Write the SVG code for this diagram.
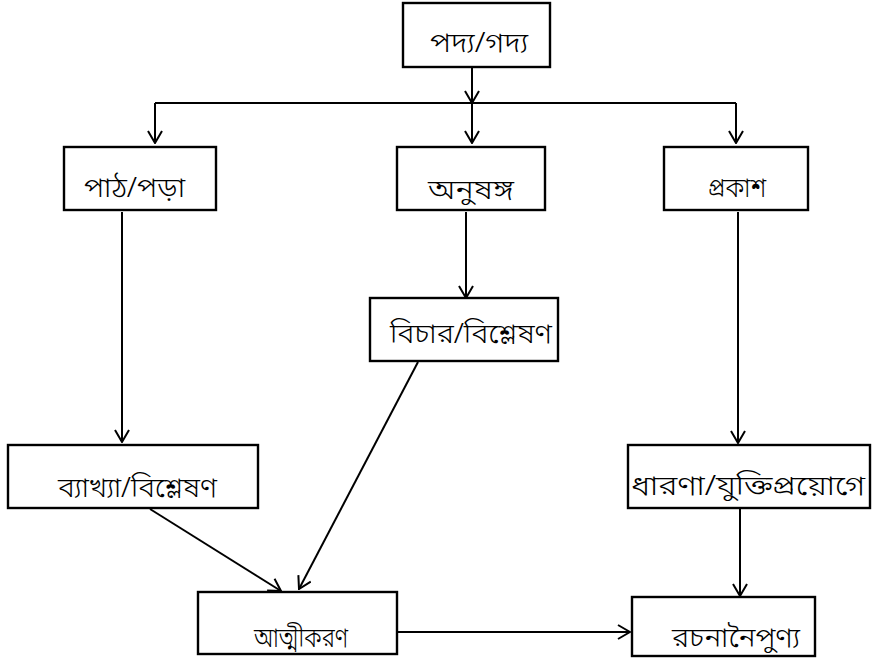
<svg xmlns="http://www.w3.org/2000/svg" width="872" height="659" viewBox="0 0 872 659">
<defs>
<marker id="arr" viewBox="0 0 14 16" refX="13" refY="8" markerWidth="14" markerHeight="16" markerUnits="userSpaceOnUse" orient="auto">
<path d="M1,1 L13,8 L1,15" fill="none" stroke="#000" stroke-width="2"/>
</marker>
<style>
.box{fill:#fff;stroke:#000;stroke-width:2.4}
.t{font-family:"Noto Sans Bengali","Lohit Bengali","Noto Sans",sans-serif;font-size:28px;font-weight:300;fill:#000}
.c{fill:none;stroke:#000;stroke-width:2}
.ca{fill:none;stroke:#000;stroke-width:2;marker-end:url(#arr)}
</style>
</defs>
<rect width="872" height="659" fill="#fff"/>
<g id="connectors">
<line class="ca" x1="472" y1="67" x2="472" y2="103"/>
<line class="c" x1="155" y1="103" x2="736" y2="103"/>
<line class="ca" x1="155" y1="103" x2="155" y2="143"/>
<line class="ca" x1="472" y1="103" x2="472" y2="143"/>
<line class="ca" x1="736" y1="103" x2="736" y2="143"/>
<line class="ca" x1="122" y1="212" x2="122" y2="442"/>
<line class="ca" x1="466" y1="212" x2="466" y2="298"/>
<line class="ca" x1="738" y1="212" x2="738" y2="443"/>
<line class="ca" x1="150" y1="509" x2="281" y2="591"/>
<line class="ca" x1="418" y1="362" x2="299" y2="589"/>
<line class="ca" x1="740" y1="508" x2="740" y2="596"/>
<line class="ca" x1="397" y1="632" x2="630" y2="632"/>
</g>
<g id="n1"><rect class="box" x="403" y="3" width="147" height="64"/><text class="t" x="430" y="52" textLength="98" lengthAdjust="spacingAndGlyphs">পদ্য/গদ্য</text></g>
<g id="n2"><rect class="box" x="64" y="147" width="152" height="63"/><text class="t" x="84" y="197" textLength="101" lengthAdjust="spacingAndGlyphs">পাঠ/পড়া</text></g>
<g id="n3"><rect class="box" x="397" y="147" width="148" height="63"/><text class="t" x="428" y="199" textLength="86" lengthAdjust="spacingAndGlyphs">অনুষঙ্গ</text></g>
<g id="n4"><rect class="box" x="664" y="147" width="144" height="63"/><text class="t" x="708" y="197" textLength="58" lengthAdjust="spacingAndGlyphs">প্রকাশ</text></g>
<g id="n5"><rect class="box" x="370" y="298" width="188" height="63"/><text class="t" x="390" y="343" textLength="162" lengthAdjust="spacingAndGlyphs">বিচার/বিশ্লেষণ</text></g>
<g id="n6"><rect class="box" x="8" y="445" width="250" height="63"/><text class="t" x="58" y="497" textLength="159" lengthAdjust="spacingAndGlyphs">ব্যাখ্যা/বিশ্লেষণ</text></g>
<g id="n7"><rect class="box" x="628" y="445" width="242" height="63"/><text class="t" x="631" y="495" textLength="234" lengthAdjust="spacingAndGlyphs">ধারণা/যুক্তিপ্রয়োগে</text></g>
<g id="n8"><rect class="box" x="198" y="592" width="199" height="62"/><text class="t" x="254" y="647" textLength="94" lengthAdjust="spacingAndGlyphs">আত্মীকরণ</text></g>
<g id="n9"><rect class="box" x="632" y="597" width="183" height="59"/><text class="t" x="672" y="647" textLength="128" lengthAdjust="spacingAndGlyphs">রচনানৈপুণ্য</text></g>
</svg>
